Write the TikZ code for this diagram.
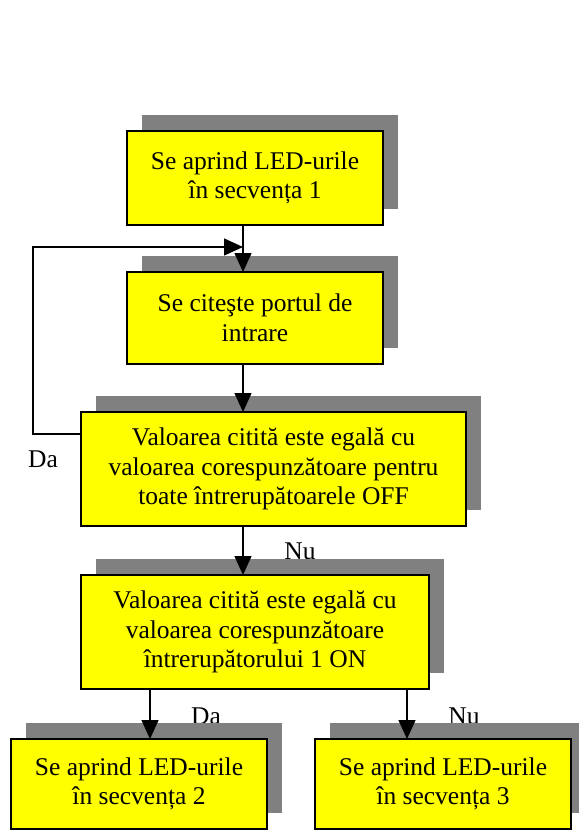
\documentclass[tikz,border=0pt]{standalone}
\usepackage{fontspec}
\setmainfont{Liberation Serif}
\usetikzlibrary{arrows.meta,backgrounds}
\definecolor{shadowgray}{HTML}{808080}
\definecolor{boxyellow}{HTML}{FFFF00}
\tikzset{
  procbox/.style={draw=black, fill=boxyellow, line width=2.5pt, outer sep=0pt,
    align=center, inner sep=0pt, font=\fontsize{25.5}{29.5}\selectfont},
  lbl/.style={font=\fontsize{25.5}{29.5}\selectfont, inner sep=0pt, anchor=base},
  arr/.style={line width=1.3pt, -{Triangle[length=19pt,width=17pt]}},
  shad/.style={fill=shadowgray}
}
\begin{document}
\begin{tikzpicture}[x=1pt,y=-1pt]
\useasboundingbox (0,0) rectangle (578,832);
% boxes
\node[procbox, minimum width=256pt, minimum height=94pt] (b1) at (255,178)
  {Se aprind LED-urile\\în secvența 1};
\node[procbox, minimum width=256pt, minimum height=92pt] (b2) at (255,318)
  {Se citeşte portul de\\intrare};
\node[procbox, minimum width=385pt, minimum height=114pt] (b3) at (273.5,469)
  {Valoarea citită este egală cu\\valoarea corespunzătoare pentru\\toate întrerupătoarele OFF};
\node[procbox, minimum width=348pt, minimum height=114pt] (b4) at (255,632)
  {Valoarea citită este egală cu\\valoarea corespunzătoare\\întrerupătorului 1 ON};
\node[procbox, minimum width=256pt, minimum height=90pt] (b5) at (139,784)
  {Se aprind LED-urile\\în secvența 2};
\node[procbox, minimum width=256pt, minimum height=90pt] (b6) at (443,784)
  {Se aprind LED-urile\\în secvența 3};
% labels and shadows behind
\begin{pgfonlayer}{background}
\node[lbl] (da1) at (43,467) {Da};
\node[lbl] (nu1) at (300,559) {Nu};
\node[lbl] (da2) at (206,724) {Da};
\node[lbl] (nu2) at (464,724) {Nu};
\foreach \b in {b1,b2,b3,b4,b5,b6}{
  \fill[shad] ([shift={(15pt,16pt)}]\b.south west) rectangle ([shift={(15pt,16pt)}]\b.north east);
}
\end{pgfonlayer}
% columns for connectors
\coordinate (colA) at ([xshift=-12pt]b1.south);
\coordinate (colB) at ([xshift=11pt]b5.north);
\coordinate (colC) at ([xshift=-36pt]b6.north);
\coordinate (fb) at (33,247);
\coordinate (j) at (colA |- fb);
% connectors
\draw[arr] (colA) -- (colA |- b2.north);
\draw[arr] ([yshift=35pt]b3.west) -| (fb) -- (j);
\draw[arr] (b2.south -| colA) -- (b3.north -| colA);
\draw[arr] (b3.south -| colA) -- (b4.north -| colA);
\draw[arr] (b4.south -| colB) -- (colB);
\draw[arr] (b4.south -| colC) -- (colC);
\end{tikzpicture}
\end{document}
